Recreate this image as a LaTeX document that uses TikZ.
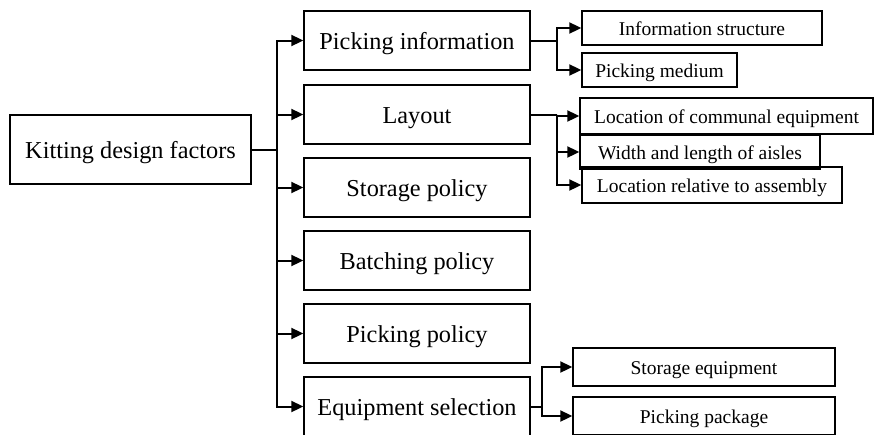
\documentclass[tikz,border=0pt]{standalone}
\usepackage{fontspec}
\setmainfont{Liberation Serif}
\usetikzlibrary{arrows.meta}
\tikzset{
  mainbox/.style={draw, line width=1.4pt, inner sep=0pt, align=center,
    text height=17.5pt, text depth=0pt,
    font=\fontsize{24.3pt}{28pt}\selectfont},
  subbox/.style={draw, line width=1.4pt, inner sep=0pt, align=center,
    text height=14pt, text depth=0pt,
    font=\fontsize{19.5pt}{23pt}\selectfont},
  link/.style={line width=2pt},
  conn/.style={line width=2pt, -{Triangle[length=12pt,width=11pt]}}
}
\begin{document}
\begin{tikzpicture}[x=1pt,y=-1pt]
                \clip (0,0) rectangle (874,434);
                \node[mainbox, minimum width=241pt, minimum height=69pt] (root) at (130.5,149.5) {Kitting design factors};
                \node[mainbox, minimum width=226pt, minimum height=59pt] (pinfo) at (417,40.5) {Picking information};
                \node[mainbox, minimum width=226pt, minimum height=59pt] (layout) at (417,114.5) {Layout};
                \node[mainbox, minimum width=226pt, minimum height=59pt] (storage) at (417,187.5) {Storage policy};
                \node[mainbox, minimum width=226pt, minimum height=59pt] (batching) at (417,260.5) {Batching policy};
                \node[mainbox, minimum width=226pt, minimum height=59pt] (picking) at (417,333.5) {Picking policy};
                \node[mainbox, minimum width=226pt, minimum height=59pt] (equip) at (417,406.5) {Equipment selection};
                \node[subbox, minimum width=240pt, minimum height=34pt] (infostruct) at (702,28) {Information structure};
                \node[subbox, minimum width=155pt, minimum height=34pt] (medium) at (659.5,70) {Picking medium};
                \node[subbox, minimum width=293pt, minimum height=36pt] (communal) at (726.5,116) {Location of communal equipment};
                \node[subbox, minimum width=240pt, minimum height=34pt] (aisles) at (700,152) {Width and length of aisles};
                \node[subbox, minimum width=260pt, minimum height=36pt] (relative) at (712,185) {Location relative to assembly};
                \node[subbox, minimum width=262pt, minimum height=38pt] (storeq) at (704,367) {Storage equipment};
                \node[subbox, minimum width=262pt, minimum height=38pt] (package) at (704,416) {Picking package};
                \coordinate (trunk) at (277,149.5);
                \coordinate (pbranch) at (557,40.5);
                \coordinate (lbranch) at (557,114.5);
                \coordinate (ebranch) at (542,406.5);
                \draw[link] (root.east) -- (trunk);
                \foreach \n in {pinfo,layout,storage,batching,picking,equip}
                    \draw[conn] (trunk) |- (\n.west);
                \draw[link] (pinfo.east) -- (pbranch);
                \draw[conn] (pbranch) |- (infostruct.west);
                \draw[conn] (pbranch) |- (medium.west);
                \draw[link] (layout.east) -- (lbranch);
                \draw[conn] (lbranch) |- (communal.west);
                \draw[conn] (lbranch) |- (aisles.west);
                \draw[conn] (lbranch) |- (relative.west);
                \draw[link] (equip.east) -- (ebranch);
                \draw[conn] (ebranch) |- (storeq.west);
                \draw[conn] (ebranch) |- (package.west);
            \end{tikzpicture}
\end{document}
